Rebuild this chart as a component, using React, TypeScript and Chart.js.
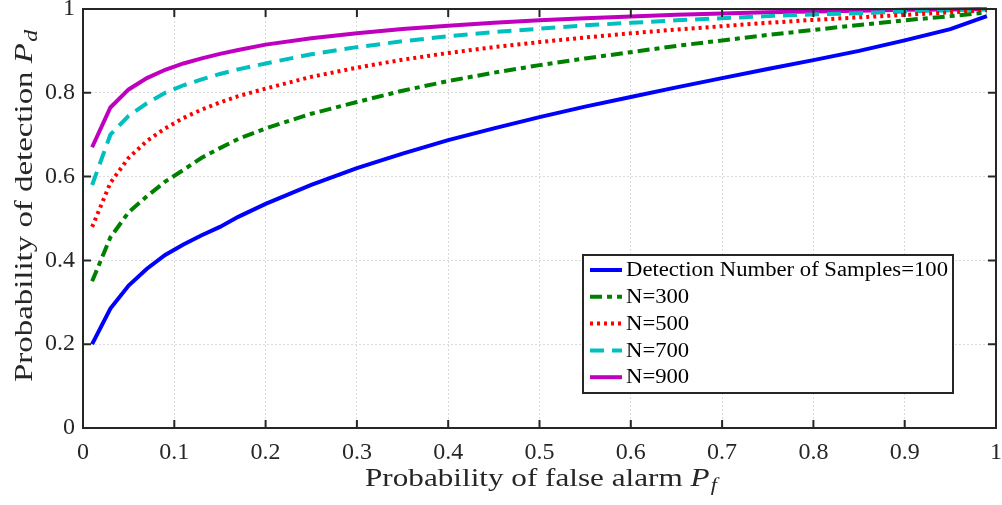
import React, { useEffect, useRef } from "react";
import { Chart, registerables } from "chart.js";

Chart.register(...registerables);

const X = [0.01, 0.03, 0.05, 0.07, 0.09, 0.11, 0.13, 0.15, 0.17, 0.2, 0.25, 0.3, 0.35, 0.4, 0.45, 0.5, 0.55, 0.6, 0.65, 0.7, 0.75, 0.8, 0.85, 0.9, 0.95, 0.99];
const N100 = [0.2, 0.285, 0.34, 0.38, 0.413, 0.438, 0.46, 0.48, 0.504, 0.535, 0.58, 0.62, 0.655, 0.687, 0.715, 0.742, 0.767, 0.79, 0.813, 0.835, 0.857, 0.878, 0.9, 0.925, 0.952, 0.983];
const N300 = [0.35, 0.455, 0.515, 0.553, 0.588, 0.616, 0.645, 0.668, 0.69, 0.715, 0.75, 0.778, 0.805, 0.828, 0.848, 0.866, 0.882, 0.897, 0.912, 0.925, 0.938, 0.95, 0.962, 0.973, 0.983, 0.992];
const N500 = [0.48, 0.585, 0.645, 0.685, 0.715, 0.74, 0.76, 0.777, 0.792, 0.81, 0.838, 0.86, 0.879, 0.895, 0.909, 0.921, 0.932, 0.942, 0.951, 0.959, 0.967, 0.974, 0.98, 0.986, 0.992, 0.997];
const N700 = [0.58, 0.7, 0.745, 0.775, 0.8, 0.818, 0.832, 0.845, 0.856, 0.87, 0.892, 0.909, 0.923, 0.935, 0.945, 0.953, 0.961, 0.967, 0.973, 0.978, 0.983, 0.987, 0.99, 0.994, 0.997, 0.999];
const N900 = [0.67, 0.765, 0.808, 0.835, 0.855, 0.87, 0.882, 0.893, 0.902, 0.915, 0.93, 0.942, 0.952, 0.96, 0.967, 0.973, 0.978, 0.982, 0.986, 0.989, 0.992, 0.994, 0.996, 0.998, 0.999, 1.0];

const SERIES_LABELS = ["Detection Number of Samples=100", "N=300", "N=500", "N=700", "N=900"];
const SERIES_VALUES = [N100, N300, N500, N700, N900];
const COLORS = ["#0000ff", "#008000", "#ff0000", "#00bfbf", "#bf00bf"];
const DASHES: number[][] = [[], [12, 5, 5, 5], [3, 4], [14, 8], []];

const X_TICKS = [0, 0.1, 0.2, 0.3, 0.4, 0.5, 0.6, 0.7, 0.8, 0.9, 1];
const Y_TICKS = [0, 0.2, 0.4, 0.6, 0.8, 1];

const X_TITLE = "Probability of false alarm ";
const Y_TITLE = "Probability of detection ";

const SERIF = "'Liberation Serif', 'Times New Roman', serif";

function drawTitle(ctx: CanvasRenderingContext2D, text: string, sub: string, targetW: number) {
  ctx.font = `25px ${SERIF}`;
  const w1 = ctx.measureText(text).width;
  ctx.font = `italic 25px ${SERIF}`;
  const w2 = ctx.measureText("P").width;
  ctx.font = `italic 18px ${SERIF}`;
  const w3 = ctx.measureText(sub).width;
  const total = w1 + w2 + w3 + 1;
  const s = targetW / total;
  ctx.save();
  ctx.scale(s, 1);
  ctx.fillStyle = "#262626";
  ctx.textBaseline = "alphabetic";
  ctx.textAlign = "left";
  ctx.font = `25px ${SERIF}`;
  ctx.fillText(text, 0, 0);
  ctx.font = `italic 25px ${SERIF}`;
  ctx.fillText("P", w1, 0);
  ctx.font = `italic 18px ${SERIF}`;
  ctx.fillText(sub, w1 + w2 + 1, 5);
  ctx.restore();
}

const decorPlugin = {
  id: "decor",
  afterDatasetsDraw(chart: any) {
    const ctx: CanvasRenderingContext2D = chart.ctx;
    const { left, right, top, bottom } = chart.chartArea;
    const xs = chart.scales.x;
    const ys = chart.scales.y;
    ctx.save();
    // box
    ctx.strokeStyle = "#262626";
    ctx.lineWidth = 2;
    ctx.setLineDash([]);
    ctx.strokeRect(left, top, right - left, bottom - top);
    // inward ticks
    const tl = 8;
    ctx.beginPath();
    X_TICKS.forEach((v) => {
      const px = xs.getPixelForValue(v);
      ctx.moveTo(px, bottom);
      ctx.lineTo(px, bottom - tl);
      ctx.moveTo(px, top);
      ctx.lineTo(px, top + tl);
    });
    Y_TICKS.forEach((v) => {
      const py = ys.getPixelForValue(v);
      ctx.moveTo(left, py);
      ctx.lineTo(left + tl, py);
      ctx.moveTo(right, py);
      ctx.lineTo(right - tl, py);
    });
    ctx.stroke();

    // tick labels
    ctx.fillStyle = "#262626";
    ctx.font = `24px ${SERIF}`;
    ctx.textAlign = "center";
    ctx.textBaseline = "middle";
    X_TICKS.forEach((v) => {
      ctx.fillText(String(v), xs.getPixelForValue(v), bottom + 25);
    });
    ctx.textAlign = "right";
    Y_TICKS.forEach((v) => {
      ctx.fillText(String(v), left - 8, ys.getPixelForValue(v));
    });

    // axis titles
    ctx.save();
    ctx.translate(365, 486);
    drawTitle(ctx, X_TITLE, "f", 352);
    ctx.restore();
    ctx.save();
    ctx.translate(32, 382);
    ctx.rotate(-Math.PI / 2);
    drawTitle(ctx, Y_TITLE, "d", 352);
    ctx.restore();

    // legend
    const lx = 583, ly = 255, lw = 370, lh = 138;
    ctx.fillStyle = "#ffffff";
    ctx.fillRect(lx, ly, lw, lh);
    ctx.strokeStyle = "#262626";
    ctx.lineWidth = 2;
    ctx.strokeRect(lx, ly, lw, lh);
    ctx.font = `20px ${SERIF}`;
    const sc = 322 / ctx.measureText(SERIES_LABELS[0]).width;
    ctx.textBaseline = "middle";
    ctx.textAlign = "left";
    SERIES_LABELS.forEach((lab, i) => {
      const yy = ly + 15 + i * 26.8;
      ctx.strokeStyle = COLORS[i];
      ctx.lineWidth = 4;
      ctx.setLineDash(DASHES[i]);
      ctx.lineDashOffset = 0;
      ctx.beginPath();
      ctx.moveTo(590, yy);
      ctx.lineTo(622, yy);
      ctx.stroke();
      ctx.setLineDash([]);
      ctx.fillStyle = "#000000";
      ctx.save();
      ctx.translate(626, yy + 1);
      ctx.scale(sc, 1);
      ctx.fillText(lab, 0, 0);
      ctx.restore();
    });
    ctx.restore();
  },
};

export default function App() {
  const ref = useRef<HTMLCanvasElement | null>(null);
  useEffect(() => {
    document.body.style.margin = "0";
    const canvas = ref.current!;
    const chart = new Chart(canvas, {
      type: "line",
      data: {
        datasets: SERIES_LABELS.map((lab, i) => ({
          label: lab,
          data: X.map((x, j) => ({ x, y: SERIES_VALUES[i][j] })),
          borderColor: COLORS[i],
          backgroundColor: COLORS[i],
          borderWidth: 4,
          borderDash: DASHES[i],
          pointRadius: 0,
          tension: 0,
          fill: false,
          clip: 4,
        })),
      },
      options: {
        animation: false,
        responsive: false,
        devicePixelRatio: 1,
        layout: { padding: { left: 0, right: 6, top: 9, bottom: 0 } },
        plugins: { legend: { display: false }, tooltip: { enabled: false } },
        scales: {
          x: {
            type: "linear",
            min: 0,
            max: 1,
            afterFit: (s: any) => { s.height = 77; s.paddingLeft = 0; s.paddingRight = 0; },
            afterBuildTicks: (s: any) => { s.ticks = X_TICKS.map((v) => ({ value: v })); },
            ticks: { display: false, autoSkip: false },
            grid: { color: "#d9d9d9", lineWidth: 1, drawTicks: false },
            border: { display: false, dash: [2, 2] },
          },
          y: {
            type: "linear",
            min: 0,
            max: 1,
            afterFit: (s: any) => { s.width = 83; s.paddingTop = 0; s.paddingBottom = 0; },
            afterBuildTicks: (s: any) => { s.ticks = Y_TICKS.map((v) => ({ value: v })); },
            ticks: { display: false, autoSkip: false },
            grid: { color: "#d9d9d9", lineWidth: 1, drawTicks: false },
            border: { display: false, dash: [2, 2] },
          },
        },
      },
      plugins: [decorPlugin],
    });
    return () => chart.destroy();
  }, []);
  return <canvas ref={ref} width={1002} height={505} style={{ display: "block" }} />;
}
